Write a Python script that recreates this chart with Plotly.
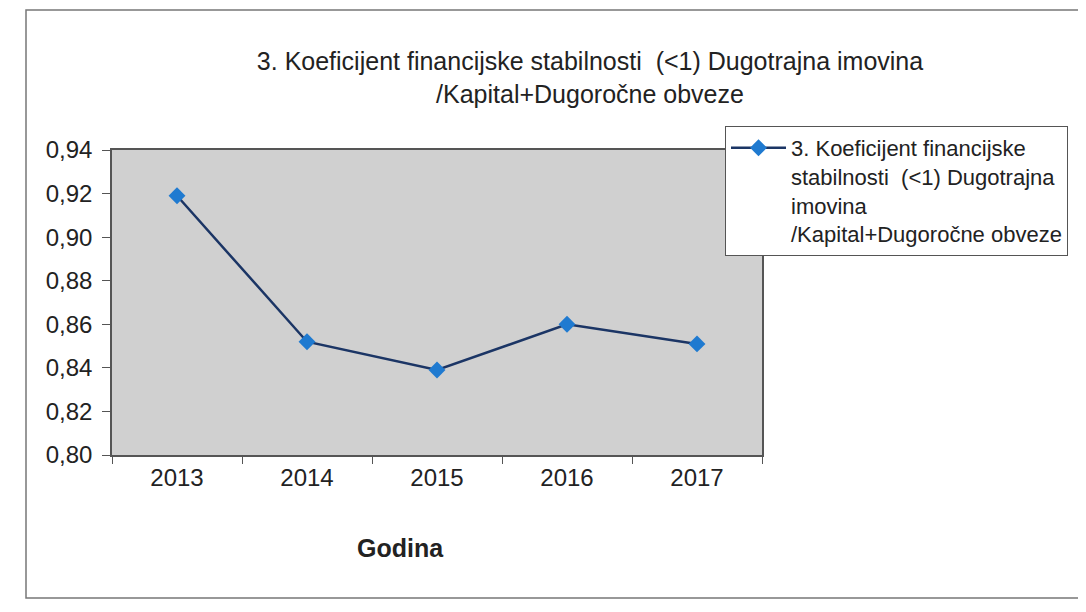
import plotly.graph_objects as go

years = ["2013", "2014", "2015", "2016", "2017"]
values = [0.919, 0.852, 0.839, 0.860, 0.851]
y_ticks = [0.80, 0.82, 0.84, 0.86, 0.88, 0.90, 0.92, 0.94]

series_name = "3. Koeficijent financijske<br>stabilnosti  (<1) Dugotrajna<br>imovina<br>/Kapital+Dugoročne obveze"
title_text = "3. Koeficijent financijske stabilnosti  (<1) Dugotrajna imovina<br>/Kapital+Dugoročne obveze"

# page body has an 8px margin; work in screen coords and convert
OFF = 8
W, H = 1078, 604
L, R, T, B = 112 - OFF, 762 - OFF, 150 - OFF, 455 - OFF
pw, ph = R - L, B - T

def px(sx):
    return (sx - OFF - L) / pw

def py(sy):
    return (B - (sy - OFF)) / ph

fig = go.Figure()
fig.add_trace(go.Scatter(
    x=years, y=values, mode="lines+markers", name=series_name,
    line=dict(color="#1b3565", width=2.5),
    marker=dict(symbol="diamond", size=13, color="#1f7ad0"),
))

fig.update_layout(
    width=W, height=H,
    margin=dict(l=L, r=W - R, t=T, b=H - B),
    paper_bgcolor="white",
    plot_bgcolor="#d0d0d0",
    separators=", ",
    font=dict(family="Liberation Sans, Arial", color="#222222", size=22),
    title=dict(text=title_text, x=(590 - OFF) / W, xanchor="center",
               y=1 - (70 - OFF) / H, yanchor="top",
               font=dict(size=25, color="#222222")),
    showlegend=True,
    legend=dict(x=px(725), y=py(126), xanchor="left", yanchor="top",
                bgcolor="white", bordercolor="#555555", borderwidth=1,
                valign="top", itemwidth=55, font=dict(size=22, color="#222222")),
    xaxis=dict(type="category", range=[-0.5, 4.5], tickson="boundaries",
               ticks="outside", ticklen=7,
               tickcolor="#555555", showline=True, linecolor="#555555", linewidth=1.5,
               mirror=True, showgrid=False, tickfont=dict(size=24)),
    yaxis=dict(range=[0.80, 0.94], tickvals=y_ticks, tickformat=".2f",
               ticks="outside", ticklen=8, tickcolor="#555555", ticklabelstandoff=5,
               showline=True, linecolor="#555555", linewidth=1.5, mirror=True,
               showgrid=False, tickfont=dict(size=24)),
    shapes=[dict(type="rect", xref="paper", yref="paper",
                 x0=px(26), x1=px(1080), y0=py(598), y1=py(10),
                 line=dict(color="#777777", width=1.5), fillcolor="rgba(0,0,0,0)",
                 layer="below")],
    annotations=[dict(text="<b>Godina</b>", xref="paper", yref="paper",
                      x=px(400), y=py(548), xanchor="center", yanchor="middle",
                      showarrow=False, font=dict(size=25, color="#222222"))],
)

fig.write_html("out.html")
